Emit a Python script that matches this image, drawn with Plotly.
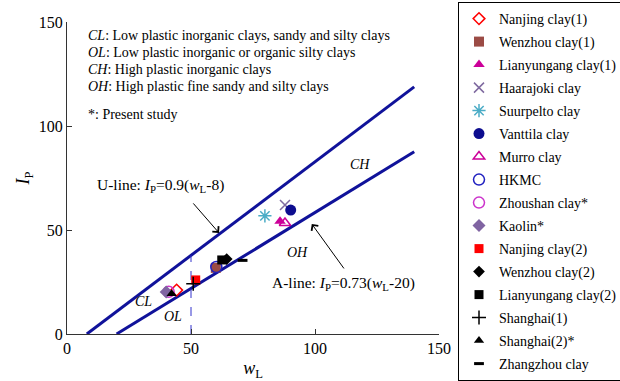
import plotly.graph_objects as go

# ---- data ----
series_names = ["Nanjing clay(1)", "Wenzhou clay(1)", "Lianyungang clay(1)", "Haarajoki clay",
                "Suurpelto clay", "Vanttila clay", "Murro clay", "HKMC", "Zhoushan clay*",
                "Kaolin*", "Nanjing clay(2)", "Wenzhou clay(2)", "Lianyungang clay(2)",
                "Shanghai(1)", "Shanghai(2)*", "Zhangzhou clay"]
wL_values = [44.2, 60.0, 85.9, 87.9, 79.8, 90.2, 87.9, 60.2, 41.0, 40.0, 51.9, 64.4, 62.4, 50.9, 42.2, 70.8]
IP_values = [21.1, 31.8, 54.2, 62.0, 56.8, 59.6, 53.4, 32.2, 20.3, 20.2, 26.0, 36.0, 35.6, 24.2, 19.4, 35.4]
symbols = ["diamond-open", "square", "triangle-up", "x-thin-open", "asterisk-open", "circle",
           "triangle-up-open", "circle-open", "circle-open", "diamond", "square", "diamond",
           "square", "cross-thin-open", "triangle-up", "line-ew-open"]
colors = ["#FF0000", "#9B4B45", "#CC0099", "#7F6AA0", "#4BACC6", "#0D0D8F", "#CC0099", "#2020C0",
          "#CC33CC", "#8064A2", "#FF0000", "#000000", "#000000", "#000000", "#000000", "#000000"]
sizes = [9, 10, 10, 10, 11, 11, 10, 11, 11, 10, 9, 9, 9, 10, 9, 7]
line_widths = [1.5, 0, 0, 1.5, 1.5, 0, 1.5, 1.5, 1.5, 0, 0, 0, 0, 1.5, 0, 3]

u_line_wl = [8, 140]      # U-line: IP = 0.9(wL-8)
a_line_wl = [20, 140]     # A-line: IP = 0.73(wL-20)
divide_wl = 50            # liquid limit boundary

x_ticks = [0, 50, 100, 150]
y_ticks = [0, 50, 100, 150]

FONT = "Liberation Serif, Times New Roman, serif"
LINE_COLOR = "#10129A"

fig = go.Figure()

fig.add_trace(go.Scatter(x=u_line_wl, y=[0.9 * (w - 8) for w in u_line_wl], mode="lines",
                         line=dict(color=LINE_COLOR, width=3), showlegend=False, hoverinfo="skip"))
fig.add_trace(go.Scatter(x=a_line_wl, y=[0.73 * (w - 20) for w in a_line_wl], mode="lines",
                         line=dict(color=LINE_COLOR, width=3), showlegend=False, hoverinfo="skip"))
fig.add_trace(go.Scatter(x=[divide_wl, divide_wl], y=[0, 0.9 * (divide_wl - 8)], mode="lines",
                         line=dict(color="#3333CC", width=1, dash="dash"), showlegend=False,
                         hoverinfo="skip"))

for i, name in enumerate(series_names):
    fig.add_trace(go.Scatter(
        x=[wL_values[i]], y=[IP_values[i]], mode="markers", name=name,
        legendgroup=name,
        marker=dict(symbol=symbols[i], size=sizes[i], color=colors[i],
                    line=dict(color=colors[i], width=line_widths[i])),
    ))

ann = []
def txt(x, y, t, size=14, xanchor="center"):
    ann.append(dict(x=x, y=y, xref="x", yref="y", text=t, showarrow=False, xanchor=xanchor,
                    yanchor="middle", font=dict(family=FONT, size=size, color="black")))

txt(7.7, 143.3, "<i>CL</i>: Low plastic inorganic clays, sandy and silty clays", xanchor="left")
txt(7.7, 135.5, "<i>OL</i>: Low plastic inorganic or organic silty clays", xanchor="left")
txt(7.7, 127.3, "<i>CH</i>: High plastic inorganic clays", xanchor="left")
txt(7.7, 118.8, "<i>OH</i>: High plastic fine sandy and silty clays", xanchor="left")
txt(7.7, 105.3, "*: Present study", xanchor="left")
txt(118.1, 81.7, "<i>CH</i>")
txt(93.1, 39.4, "<i>OH</i>")
txt(31.0, 15.4, "<i>CL</i>")
txt(42.7, 8.2, "<i>OL</i>")
txt(37.5, 71.6, "U-line: <i>I</i><sub>P</sub>=0.9(<i>w</i><sub>L</sub>-8)", size=15.5)
txt(111.3, 24.5, "A-line: <i>I</i><sub>P</sub>=0.73(<i>w</i><sub>L</sub>-20)", size=15.5)

ann.append(dict(x=61.3, y=48.6, ax=50.4, ay=63.5, xref="x", yref="y", axref="x", ayref="y",
                showarrow=True, arrowhead=4, arrowsize=1.6, arrowwidth=1, arrowcolor="black", text=""))
ann.append(dict(x=98.7, y=52.9, ax=112.1, ay=30.8, xref="x", yref="y", axref="x", ayref="y",
                showarrow=True, arrowhead=4, arrowsize=1.6, arrowwidth=1, arrowcolor="black", text=""))

axis_common = dict(showline=True, linecolor="#333333", linewidth=1, ticks="inside", ticklen=5,
                   tickcolor="#333333", showgrid=False, zeroline=False,
                   tickfont=dict(family=FONT, size=16, color="black"), range=[0, 150])

fig.update_layout(
    width=620, height=381,
    margin=dict(l=67, r=181, t=22, b=47, autoexpand=False),
    paper_bgcolor="white", plot_bgcolor="white",
    font=dict(family=FONT, color="black"),
    xaxis=dict(**axis_common, tickvals=x_ticks,
               title=dict(text="<i>w</i><sub>L</sub>", font=dict(family=FONT, size=18), standoff=5)),
    yaxis=dict(**axis_common, tickvals=y_ticks,
               title=dict(text="<i>I</i><sub>P</sub>", font=dict(family=FONT, size=18), standoff=4)),
    annotations=ann,
    legend=dict(x=(458 - 67) / 372, y=(334 - 2) / 312, xanchor="left", yanchor="top",
                bordercolor="black", borderwidth=1, bgcolor="white",
                font=dict(family=FONT, size=14, color="black"),
                tracegroupgap=1.8, itemwidth=30, maxheight=381),
    showlegend=True,
)

fig.write_html("out.html", post_script="document.body.style.margin='0';",
               config={"displayModeBar": False})
